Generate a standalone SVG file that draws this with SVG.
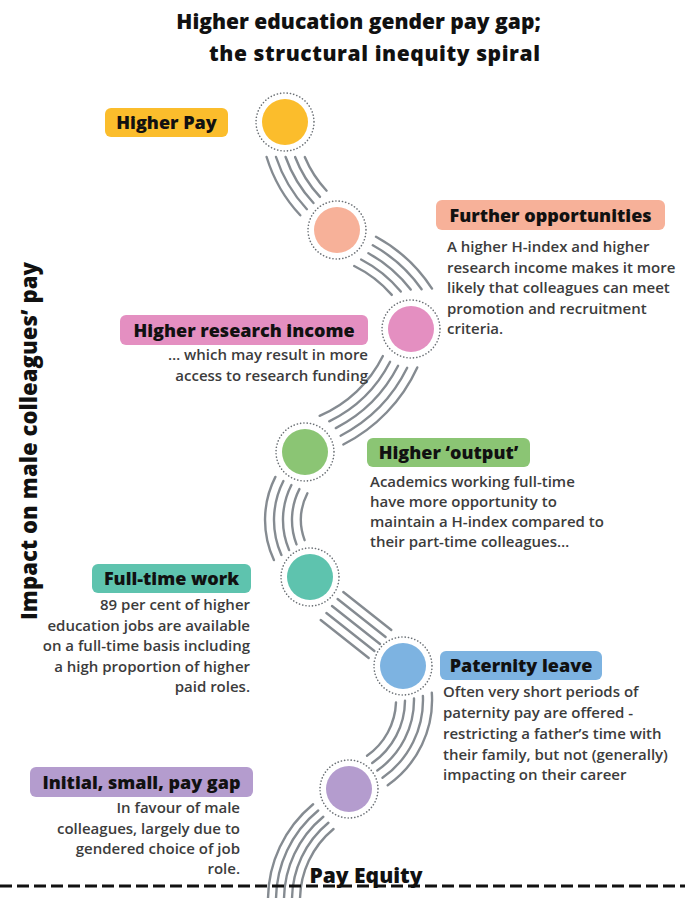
<svg xmlns="http://www.w3.org/2000/svg" width="685" height="898" viewBox="0 0 685 898">
  <style>
    .title { font-family: "Open Sans", "Liberation Sans", sans-serif; font-weight: 800; font-size: 21px; fill: #111; text-anchor: middle; }
    .axis { font-family: "Open Sans", "Liberation Sans", sans-serif; font-weight: 800; font-size: 22px; fill: #111; text-anchor: middle; }
    .tag { font-family: "Open Sans", "Liberation Sans", sans-serif; font-weight: 800; font-size: 18px; fill: #111; text-anchor: middle; }
    .body { font-family: "Open Sans", "Liberation Sans", sans-serif; font-weight: 600; font-size: 15px; fill: #3c3c3c; }
    .end { text-anchor: end; }
    .ring { fill: #fff; stroke: #6b7075; stroke-width: 1.6; stroke-dasharray: 0.1 3.2; stroke-linecap: round; }
    .strand { fill: none; stroke: #858b91; stroke-width: 2.4; stroke-linecap: round; }
    .baseline { stroke: #111; stroke-width: 3; stroke-dasharray: 12 5; }
  </style>

  <!-- heading -->
  <text class="title" x="358.5" y="29">Higher education gender pay gap;</text>
  <text class="title" x="374.5" y="61" textLength="331" lengthAdjust="spacing">the structural inequity spiral</text>

  <!-- vertical axis label -->
  <text class="axis" transform="translate(37,441) rotate(-90)" textLength="358" lengthAdjust="spacing">Impact on male colleagues’ pay</text>

  <!-- spiral strands between stages -->
  <g id="connectors">
    <g id="link-pay-opportunities">
      <path class="strand" d="M304.8 157 A114 114 0 0 0 326.6 190.7"/>
      <path class="strand" d="M295.1 157 A123 123 0 0 0 320.0 196.9"/>
      <path class="strand" d="M285.6 157 A132 132 0 0 0 313.5 203.0"/>
      <path class="strand" d="M276.0 157 A141 141 0 0 0 306.9 209.2"/>
      <path class="strand" d="M266.6 157 A150 150 0 0 0 300.3 215.3"/>
    </g>
    <g id="link-opportunities-income">
      <path class="strand" d="M354.2 266.0 A119 119 0 0 1 391.8 294.9"/>
      <path class="strand" d="M361.1 259.5 A128 128 0 0 1 400.8 291.6"/>
      <path class="strand" d="M368.4 253.2 A137 137 0 0 1 410.7 289.6"/>
      <path class="strand" d="M372.8 245.3 A146 146 0 0 1 421.6 289.3"/>
      <path class="strand" d="M376.0 236.8 A155 155 0 0 1 432.0 288.6"/>
    </g>
    <g id="link-income-output">
      <path class="strand" d="M382.9 356.0 A126 126 0 0 1 319.6 415.8"/>
      <path class="strand" d="M390.1 361.7 A135 135 0 0 1 329.2 421.3"/>
      <path class="strand" d="M398.1 365.8 A144 144 0 0 1 335.8 428.1"/>
      <path class="strand" d="M407.2 367.8 A153 153 0 0 1 340.6 435.7"/>
      <path class="strand" d="M417.3 367.4 A162 162 0 0 1 343.3 444.5"/>
    </g>
    <g id="link-output-fulltime">
      <path class="strand" d="M307.4 493.2 A59 59 0 0 0 304.6 540.2"/>
      <path class="strand" d="M299.4 489.1 A68 68 0 0 0 296.5 544.4"/>
      <path class="strand" d="M291.4 485.0 A77 77 0 0 0 289.1 550.1"/>
      <path class="strand" d="M283.4 481.0 A86 86 0 0 0 281.4 555.0"/>
      <path class="strand" d="M275.4 476.9 A95 95 0 0 0 273.9 560.1"/>
    </g>
    <g id="link-fulltime-paternity">
      <path class="strand" d="M343.3 592.0 L391.3 630.0"/>
      <path class="strand" d="M337.6 599.0 L385.6 637.0"/>
      <path class="strand" d="M332.0 606.0 L380.0 644.0"/>
      <path class="strand" d="M326.4 613.0 L374.4 651.0"/>
      <path class="strand" d="M320.7 620.0 L368.7 658.0"/>
    </g>
    <g id="link-paternity-initial">
      <path class="strand" d="M396.0 702.4 A68 68 0 0 1 367.0 755.7"/>
      <path class="strand" d="M405.0 700.7 A77 77 0 0 1 372.2 763.1"/>
      <path class="strand" d="M414.0 698.5 A86 86 0 0 1 377.3 770.5"/>
      <path class="strand" d="M422.9 695.9 A95 95 0 0 1 382.5 777.8"/>
      <path class="strand" d="M431.8 692.7 A104 104 0 0 1 387.7 785.2"/>
    </g>
    <g id="link-initial-equity">
      <path class="strand" d="M333.5 829.0 A92 92 0 0 0 300 900"/>
      <path class="strand" d="M328.4 822.8 A100 100 0 0 0 292 900"/>
      <path class="strand" d="M323.3 816.7 A108 108 0 0 0 284 900"/>
      <path class="strand" d="M318.2 810.5 A116 116 0 0 0 276 900"/>
      <path class="strand" d="M313.1 804.3 A124 124 0 0 0 268 900"/>
    </g>
  </g>

  <!-- stages -->
  <g id="higher-pay">
    <circle class="ring" cx="285" cy="122" r="29"/>
    <circle cx="285" cy="122" r="23" fill="#FBBD2C"/>
    <rect x="105" y="108" width="123" height="29" rx="6" fill="#FBBD2C"/>
    <text class="tag" x="166.5" y="128.5">Higher Pay</text>
  </g>

  <g id="further-opportunities">
    <circle class="ring" cx="337" cy="230" r="29"/>
    <circle cx="337" cy="230" r="23" fill="#F7B199"/>
    <rect x="436" y="200" width="229" height="30" rx="6" fill="#F7B199"/>
    <text class="tag" x="550.5" y="221.5">Further opportunities</text>
    <text class="body" x="447" y="252">A higher H-index and higher</text>
    <text class="body" x="447" y="272.5">research income makes it more</text>
    <text class="body" x="447" y="293">likely that colleagues can meet</text>
    <text class="body" x="447" y="313.5">promotion and recruitment</text>
    <text class="body" x="447" y="334">criteria.</text>
  </g>

  <g id="higher-research-income">
    <circle class="ring" cx="411" cy="329" r="29"/>
    <circle cx="411" cy="329" r="23" fill="#E48FC1"/>
    <rect x="120" y="315" width="248" height="30" rx="6" fill="#E48FC1"/>
    <text class="tag" x="244" y="336.5">Higher research income</text>
    <text class="body end" x="368" y="360">… which may result in more</text>
    <text class="body end" x="368" y="380.5">access to research funding</text>
  </g>

  <g id="higher-output">
    <circle class="ring" cx="305" cy="452" r="29"/>
    <circle cx="305" cy="452" r="23" fill="#8BC574"/>
    <rect x="367" y="438" width="163" height="29" rx="6" fill="#8BC574"/>
    <text class="tag" x="448.5" y="458.5">Higher ‘output’</text>
    <text class="body" x="370" y="487">Academics working full-time</text>
    <text class="body" x="370" y="507">have more opportunity to</text>
    <text class="body" x="370" y="527">maintain a H-index compared to</text>
    <text class="body" x="370" y="547">their part-time colleagues…</text>
  </g>

  <g id="full-time-work">
    <circle class="ring" cx="310" cy="577" r="29"/>
    <circle cx="310" cy="577" r="23" fill="#5EC3AE"/>
    <rect x="92" y="564" width="159" height="29" rx="6" fill="#5EC3AE"/>
    <text class="tag" x="171.5" y="584.5">Full-time work</text>
    <text class="body end" x="250" y="610">89 per cent of higher</text>
    <text class="body end" x="250" y="630.5">education jobs are available</text>
    <text class="body end" x="250" y="651">on a full-time basis including</text>
    <text class="body end" x="250" y="671.5">a high proportion of higher</text>
    <text class="body end" x="250" y="692">paid roles.</text>
  </g>

  <g id="paternity-leave">
    <circle class="ring" cx="403" cy="666" r="29"/>
    <circle cx="403" cy="666" r="23" fill="#7DB3E1"/>
    <rect x="440" y="651" width="162" height="29" rx="6" fill="#7DB3E1"/>
    <text class="tag" x="521" y="671.5">Paternity leave</text>
    <text class="body" x="443" y="697">Often very short periods of</text>
    <text class="body" x="443" y="718">paternity pay are offered -</text>
    <text class="body" x="443" y="739">restricting a father’s time with</text>
    <text class="body" x="443" y="759.5">their family, but not (generally)</text>
    <text class="body" x="443" y="780">impacting on their career</text>
  </g>

  <g id="initial-pay-gap">
    <circle class="ring" cx="349" cy="789" r="29"/>
    <circle cx="349" cy="789" r="23" fill="#B49CCE"/>
    <rect x="30" y="767" width="223" height="30" rx="6" fill="#B49CCE"/>
    <text class="tag" x="141.5" y="788.5">Initial, small, pay gap</text>
    <text class="body end" x="240" y="813">In favour of male</text>
    <text class="body end" x="240" y="833.5">colleagues, largely due to</text>
    <text class="body end" x="240" y="854">gendered choice of job</text>
    <text class="body end" x="240" y="874">role.</text>
  </g>

  <!-- equity baseline -->
  <g id="pay-equity">
    <line class="baseline" x1="0" y1="886" x2="685" y2="886"/>
    <text class="tag" x="366" y="883" style="font-size:21px">Pay Equity</text>
  </g>
</svg>
